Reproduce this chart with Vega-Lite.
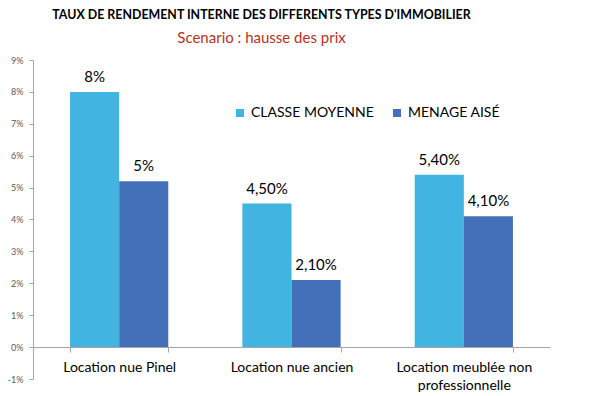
{
  "$schema": "https://vega.github.io/schema/vega-lite/v6.json",
  "width": 517,
  "height": 319,
  "autosize": {"type": "none"},
  "padding": {"left": 33, "top": 60, "right": 50, "bottom": 17},
  "background": "white",
  "config": {"view": {"stroke": null}},
  "title": {
    "text": "TAUX DE RENDEMENT INTERNE DES DIFFERENTS TYPES D'IMMOBILIER",
    "subtitle": "Scenario : hausse des prix",
    "anchor": "middle",
    "frame": "group",
    "dx": -30,
    "offset": 10,
    "font": "Lato",
    "fontSize": 12.4,
    "fontWeight": "bold",
    "color": "#000000",
    "subtitleFont": "Lato",
    "subtitleFontSize": 15,
    "subtitleColor": "#B7321F",
    "subtitlePadding": 10
  },
  "data": {
    "values": [
      {"type": "Location nue Pinel", "profil": "CLASSE MOYENNE", "v": 0.08, "label": "8%"},
      {"type": "Location nue Pinel", "profil": "MENAGE AISÉ", "v": 0.052, "label": "5%"},
      {"type": "Location nue ancien", "profil": "CLASSE MOYENNE", "v": 0.045, "label": "4,50%"},
      {"type": "Location nue ancien", "profil": "MENAGE AISÉ", "v": 0.021, "label": "2,10%"},
      {"type": "Location meublée non professionnelle", "profil": "CLASSE MOYENNE", "v": 0.054, "label": "5,40%"},
      {"type": "Location meublée non professionnelle", "profil": "MENAGE AISÉ", "v": 0.041, "label": "4,10%"}
    ]
  },
  "encoding": {
    "x": {
      "field": "type",
      "type": "nominal",
      "sort": null,
      "scale": {"paddingInner": 0.43, "paddingOuter": 0.215},
      "axis": {
        "title": null,
        "orient": "bottom",
        "offset": -32,
        "labelAngle": 0,
        "domainColor": "#A6A6A6",
        "tickColor": "#A6A6A6",
        "tickBand": "extent",
        "tickSize": 5,
        "labelFont": "Lato",
        "labelFontSize": 14,
        "labelColor": "#000000",
        "labelPadding": 8,
        "labelLineHeight": 18,
        "labelExpr": "datum.label == 'Location meublée non professionnelle' ? ['Location meublée non', 'professionnelle'] : datum.label"
      }
    },
    "xOffset": {"field": "profil", "type": "nominal", "sort": ["CLASSE MOYENNE", "MENAGE AISÉ"]},
    "y": {
      "field": "v",
      "type": "quantitative",
      "scale": {"domain": [-0.01, 0.09], "nice": false, "zero": false},
      "axis": {
        "title": null,
        "grid": false,
        "values": [-0.01, 0, 0.01, 0.02, 0.03, 0.04, 0.05, 0.06, 0.07, 0.08, 0.09],
        "labelExpr": "round(datum.value * 100) + '%'",
        "domainColor": "#A6A6A6",
        "tickColor": "#A6A6A6",
        "tickSize": 4,
        "labelFont": "Lato",
        "labelFontSize": 9,
        "labelColor": "#595959",
        "labelPadding": 6
      }
    }
  },
  "layer": [
    {
      "mark": {"type": "bar"},
      "encoding": {
        "color": {
          "field": "profil",
          "type": "nominal",
          "sort": ["CLASSE MOYENNE", "MENAGE AISÉ"],
          "scale": {"domain": ["CLASSE MOYENNE", "MENAGE AISÉ"], "range": ["#41B4E1", "#4370B8"]},
          "legend": {
            "title": null,
            "orient": "none",
            "direction": "horizontal",
            "legendX": 200,
            "legendY": 46,
            "symbolType": "square",
            "symbolSize": 64,
            "symbolStrokeWidth": 0,
            "labelFont": "Lato",
            "labelFontSize": 14,
            "labelColor": "#000000",
            "labelOffset": 4,
            "columnPadding": 16
          }
        }
      }
    },
    {
      "mark": {"type": "text", "baseline": "bottom", "dy": -7, "font": "Lato", "fontSize": 15, "color": "#000000"},
      "encoding": {
        "text": {"field": "label"}
      }
    }
  ]
}
